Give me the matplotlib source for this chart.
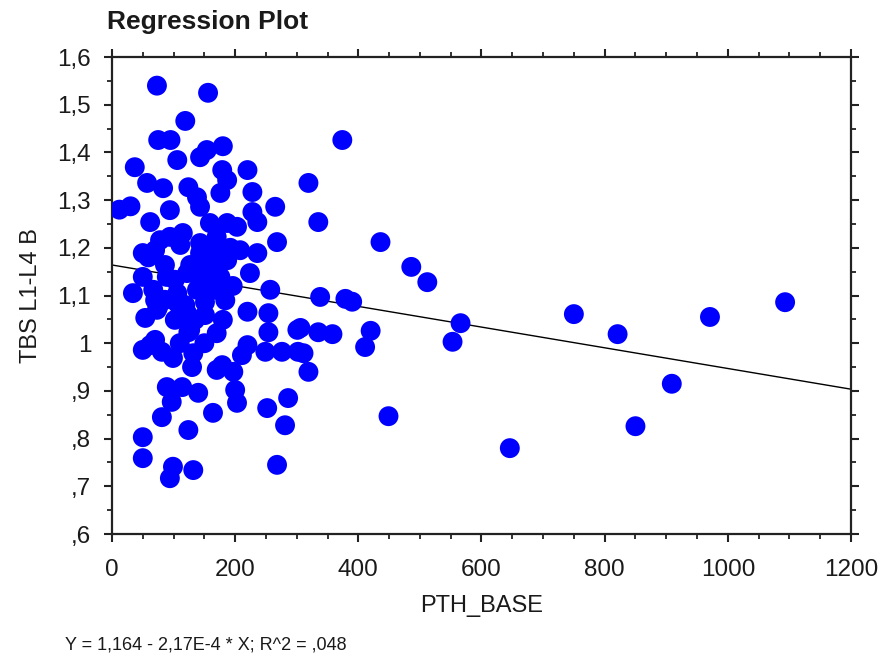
import numpy as np
import matplotlib
matplotlib.use("Agg")
import matplotlib.pyplot as plt
from matplotlib.ticker import MultipleLocator, FixedLocator

plt.rcParams['font.family'] = ['Liberation Sans', 'DejaVu Sans']

# PTH_BASE values
pth = [73, 156, 119, 75, 95, 180, 374, 37, 106, 143, 154, 179, 220, 57, 83,
       124, 138, 187, 176, 228, 265, 12, 30, 62, 94, 143, 187, 228, 236, 94,
       115, 159, 170, 203, 268, 50, 70, 111, 143, 164, 187, 208, 236, 50, 89,
       122, 143, 176, 224, 257, 34, 67, 106, 138, 73, 106, 122, 151, 184, 180,
       220, 254, 124, 170, 254, 301, 62, 50, 81, 99, 132, 130, 170, 179, 220,
       211, 249, 276, 302, 197, 89, 114, 140, 97, 200, 203, 81, 164, 252, 286,
       281, 124, 50, 50, 99, 94, 132, 268, 319, 335, 436, 486, 512, 338, 379,
       390, 566, 553, 306, 335, 358, 420, 411, 311, 319, 449, 646, 750, 821, 971,
       1093, 909, 850, 59, 75, 70, 86, 102, 127, 159, 86, 119, 151, 167, 135,
       102, 167, 192, 143, 110, 150, 78, 143, 176, 70, 127, 54, 160, 196]
# TBS L1-L4 B values
tbs = [1.540, 1.525, 1.466, 1.426, 1.426, 1.413, 1.426, 1.369, 1.384, 1.390,
       1.405, 1.363, 1.363, 1.336, 1.325, 1.327, 1.306, 1.342, 1.315, 1.317,
       1.286, 1.280, 1.287, 1.254, 1.279, 1.286, 1.252, 1.275, 1.254, 1.223,
       1.231, 1.252, 1.223, 1.244, 1.212, 1.189, 1.195, 1.206, 1.189, 1.202,
       1.174, 1.195, 1.189, 1.139, 1.139, 1.147, 1.132, 1.139, 1.147, 1.112,
       1.105, 1.112, 1.105, 1.112, 1.070, 1.084, 1.063, 1.086, 1.090, 1.049,
       1.066, 1.063, 1.023, 1.021, 1.023, 1.028, 0.996, 0.986, 0.982, 0.969,
       0.979, 0.950, 0.944, 0.954, 0.996, 0.975, 0.982, 0.982, 0.982, 0.940,
       0.908, 0.908, 0.896, 0.877, 0.902, 0.875, 0.845, 0.854, 0.864, 0.885,
       0.828, 0.818, 0.803, 0.759, 0.741, 0.717, 0.734, 0.745, 1.336, 1.254,
       1.212, 1.160, 1.128, 1.097, 1.093, 1.087, 1.042, 1.003, 1.032, 1.023,
       1.019, 1.026, 0.992, 0.979, 0.940, 0.847, 0.780, 1.061, 1.019, 1.055,
       1.086, 0.915, 0.826, 1.180, 1.076, 1.007, 1.164, 1.133, 1.164, 1.143,
       1.091, 1.080, 1.059, 1.112, 1.049, 1.049, 1.210, 1.200, 1.210, 1.000,
       1.000, 1.216, 1.158, 1.179, 1.090, 1.028, 1.053, 1.168, 1.120]

intercept = 1.164
slope = -2.17e-4

yticks = [0.6, 0.7, 0.8, 0.9, 1.0, 1.1, 1.2, 1.3, 1.4, 1.5, 1.6]
ytick_labels = [',6', ',7', ',8', ',9', '1', '1,1', '1,2', '1,3', '1,4', '1,5', '1,6']
xticks = [0, 200, 400, 600, 800, 1000, 1200]

fig = plt.figure(figsize=(8.86, 6.6), dpi=100)
ax = fig.add_axes([0.1264, 0.1909, 0.8341, 0.7227])

xl = np.array([0, 1200])
ax.plot(xl, intercept + slope * xl, color='black', lw=1.0, zorder=2)
ax.scatter(pth, tbs, s=205, color='#0000ff', edgecolors='none', zorder=3)

ax.set_xlim(0, 1200)
ax.set_ylim(0.6, 1.6)
ax.xaxis.set_major_locator(FixedLocator(xticks))
ax.xaxis.set_minor_locator(MultipleLocator(50))
ax.yaxis.set_major_locator(FixedLocator(yticks))
ax.yaxis.set_minor_locator(MultipleLocator(0.05))
ax.set_yticklabels(ytick_labels)
ax.set_xticklabels([str(v) for v in xticks])

for sp in ax.spines.values():
    sp.set_linewidth(1.6)
    sp.set_color('#222222')
ax.tick_params(which='both', direction='out', top=True, right=True,
               color='#222222', labelsize=17.5, labelcolor='#1a1a1a')
ax.tick_params(which='major', length=6, width=1.5)
ax.tick_params(which='minor', length=3.5, width=1.3)
ax.tick_params(axis='x', which='major', pad=12)
ax.tick_params(axis='y', which='major', pad=9)

ax.set_xlabel('PTH_BASE', fontsize=17, color='#1a1a1a', va='center')
ax.xaxis.set_label_coords(0.5, -0.151)
ax.set_ylabel('TBS L1-L4 B', fontsize=17, color='#1a1a1a', va='center')
ax.yaxis.set_label_coords(-0.109, 0.5)

fig.text(107 / 886, 1 - 22 / 660, 'Regression Plot', fontsize=19,
         fontweight='bold', color='#1a1a1a', ha='left', va='center')
fig.text(65 / 886, 1 - 645 / 660, 'Y = 1,164 - 2,17E-4 * X; R^2 = ,048',
         fontsize=13, color='#1a1a1a', ha='left', va='center')

fig.savefig('out.png', dpi=100)
